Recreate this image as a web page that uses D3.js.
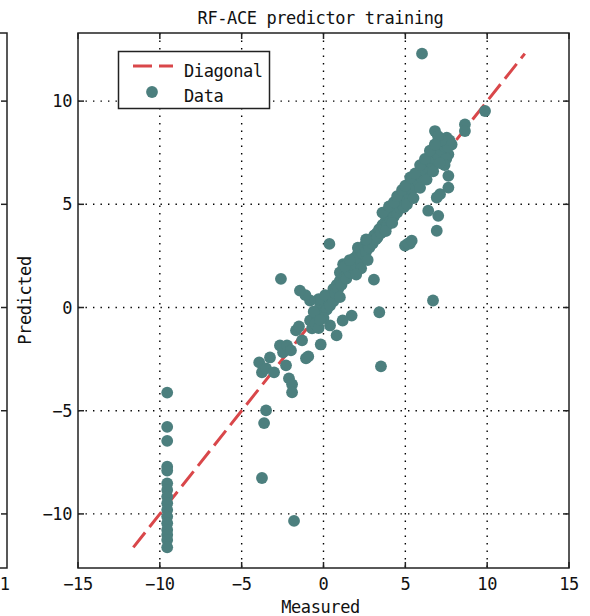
<!DOCTYPE html>
<html>
<head>
<meta charset="utf-8">
<script src="https://cdn.jsdelivr.net/npm/d3@7"></script>
<style>
  body { margin: 0; background: #fff; }
  text { font-family: "DejaVu Sans Mono", monospace; font-size: 17px; letter-spacing: -0.4px; fill: #111; }
</style>
</head>
<body>
<svg id="chart" width="590" height="616"></svg>
<script>
// ---- chart text ----
const title = "RF-ACE predictor training";
const xLabel = "Measured";
const yLabel = "Predicted";
const legendLabels = ["Diagonal", "Data"];
const xTicks = [-15, -10, -5, 0, 5, 10, 15];
const yTicks = [-10, -5, 0, 5, 10];

// ---- training samples: measured vs predicted ----
const measured = [
  // column of low measured values
  -9.55, -9.55, -9.55, -9.55, -9.55, -9.55, -9.55, -9.55, -9.55, -9.55, -9.55, -9.55, -9.55, -9.55, -9.55, -9.55,
  // isolated samples
  6.02, 9.87, 8.64, 8.64, 6.69, 3.51, -1.8, -3.76, -3.63, -3.51, 0.36, -2.6, 3.08, 5.28, 4.98, 5.18, 5.39,
  6.4, 7.01, 6.92, 7.12, 6.92, 7.63, 7.63, 7.63, 7.83, 7.53, 6.81,
  // below the diagonal near zero
  1.72, 1.17, 0.4, 0.8, -0.17, -0.93, 3.41,
  // lower-left group
  -3.93, -3.76, -3.51, -3.27, -3.02, -2.66, -2.47, -2.23, -1.99, -2.29, -2.11, -1.92, -1.92, -1.68, -1.5, -1.31, -1.07, -0.82, -0.7,
  // around the origin
  0, 0.1, -0.2, 0.3, -0.1, 0.2, -0.4, 0.5, -0.3, 0.1, 0.4, -0.6, -0.82, -1.1, -1.44, -0.5, -0.3, 0, 0.6, -0.2,
  // main band 0..5
  0.6, 0.7, 0.8, 0.9, 1.0, 1.0, 1.1, 1.2, 1.3, 1.4, 1.5, 1.6, 1.7, 1.8, 1.9, 2.0, 2.1, 2.1, 2.2, 2.3, 2.3, 2.4, 2.5,
  2.6, 2.7, 2.8, 2.9, 3.0, 3.1, 3.2, 3.25, 3.3, 3.4, 3.5, 3.6, 3.7, 3.8, 3.9, 4.0, 4.1, 4.2, 4.3, 4.4, 4.5, 4.6, 4.7,
  4.8, 4.9, 4.9,
  1.3, 1.6, 2.6, 2.0, 2.7, 1.0, 3.6, 4.0, 4.3, 3.8, 4.2,
  // main band 5..8
  5.0, 5.1, 5.2, 5.3, 5.4, 5.5, 5.6, 5.7, 5.8, 5.9, 6.0, 6.1, 6.2, 6.3, 6.4, 6.5, 6.6, 6.7, 6.8, 6.9, 7.0, 7.1, 7.2,
  7.3, 7.4, 7.5, 7.6, 7.7, 7.2, 7.0, 7.5, 7.4,
  4.5, 4.8, 5.0, 5.3, 5.6, 5.9, 6.2, 6.5, 6.8, 5.1, 5.5, 5.9, 6.3, 6.7, 7.1
];
const predicted = [
  -4.12, -5.78, -6.46, -7.71, -7.9, -8.52, -8.84, -9.16, -9.48, -9.81, -10.13, -10.45, -10.77, -11.01, -11.26, -11.62,
  12.3, 9.52, 8.87, 8.55, 0.34, -2.85, -10.34, -8.26, -5.6, -4.98, 3.08, 1.39, 1.35, 3.1, 3.0, 3.11, 3.24,
  4.69, 4.44, 3.72, 5.49, 5.33, 5.81, 6.38, 7.42, 7.9, 8.23, 8.55,
  -0.39, -0.63, -0.87, -1.35, -1.79, -2.37, -0.23,
  -2.66, -3.14, -2.95, -2.42, -3.14, -1.84, -2.17, -1.84, -2.08, -2.8, -3.43, -3.72, -4.11, -1.11, -0.92, -1.59, -2.46, -0.63, -1.01,
  0, 0.2, 0.1, 0.4, -0.3, -0.1, -0.4, 0.6, 0.4, 0.6, 0.1, -0.2, 0.34, 0.6, 0.82, -0.8, -1.0, -0.5, 0.3, -0.6,
  0.9, 0.7, 1.1, 0.9, 1.3, 1.7, 1.1, 2.1, 1.5, 1.4, 1.9, 1.7, 2.1, 1.9, 2.4, 2.1, 2.6, 2.9, 2.3, 2.8, 1.9, 2.6, 3.0,
  2.7, 3.1, 2.9, 3.3, 3.1, 3.5, 3.3, 3.6, 3.4, 3.8, 3.6, 4.0, 3.8, 4.2, 4.0, 4.4, 4.2, 4.6, 4.4, 4.8, 4.6, 5.0, 4.8,
  5.2, 5.0, 4.85,
  2.0, 2.3, 3.3, 1.6, 2.3, 0.5, 4.6, 4.9, 5.1, 3.7, 4.1,
  5.4, 5.6, 5.5, 5.8, 5.7, 6.0, 5.9, 6.2, 6.1, 6.4, 6.3, 6.7, 6.6, 6.9, 6.8, 7.1, 7.0, 7.3, 7.2, 7.5, 7.4, 7.7, 7.6,
  7.9, 7.8, 8.0, 7.8, 8.1, 8.1, 8.3, 7.2, 6.9,
  5.4, 5.7, 5.9, 6.3, 6.5, 6.9, 7.2, 7.6, 7.9, 5.0, 5.3, 5.8, 6.2, 6.6, 7.0
];

// ---- colours ----
const dataColor = "#4c7f7e";
const diagColor = "#d9474a";
const axisColor = "#222";

// ---- layout ----
const plot = { left: 78, right: 569, top: 33, bottom: 568 };
const svg = d3.select("#chart");

const predMin = d3.min(predicted), predMax = d3.max(predicted);
const x = d3.scaleLinear().domain([-15, 15]).range([plot.left, plot.right]);
const y = d3.scaleLinear().domain([predMin - 1, predMax + 1]).range([plot.bottom, plot.top]);

// neighbouring panel edge on the far left
const side = svg.append("g").attr("stroke", axisColor).attr("stroke-width", 1.5).attr("fill", "none");
side.append("path").attr("d", `M0,${plot.top}H7V${plot.bottom}H0`);
side.selectAll("line.tk").data(yTicks).join("line")
  .attr("x1", 7).attr("x2", 1).attr("y1", d => y(d)).attr("y2", d => y(d));
svg.append("text").attr("x", 9.6).attr("y", 590).attr("text-anchor", "end").text("1");

// grid
const grid = svg.append("g").attr("stroke", "#000").attr("stroke-width", 1.4)
  .attr("stroke-dasharray", "1.4,6.1");
grid.selectAll("line.gx").data(xTicks.slice(1, -1)).join("line")
  .attr("x1", d => x(d)).attr("x2", d => x(d)).attr("y1", plot.top).attr("y2", plot.bottom);
grid.selectAll("line.gy").data(yTicks).join("line")
  .attr("y1", d => y(d)).attr("y2", d => y(d)).attr("x1", plot.left).attr("x2", plot.right);

// diagonal reference line
svg.append("line")
  .attr("x1", x(predMin)).attr("y1", y(predMin))
  .attr("x2", x(predMax)).attr("y2", y(predMax))
  .attr("stroke", diagColor).attr("stroke-width", 3).attr("stroke-dasharray", "19,7");

// samples
svg.append("g").selectAll("circle").data(d3.range(measured.length)).join("circle")
  .attr("cx", i => x(measured[i])).attr("cy", i => y(predicted[i]))
  .attr("r", 5.9).attr("fill", dataColor);

// frame and ticks
svg.append("rect")
  .attr("x", plot.left).attr("y", plot.top)
  .attr("width", plot.right - plot.left).attr("height", plot.bottom - plot.top)
  .attr("fill", "none").attr("stroke", axisColor).attr("stroke-width", 1.5);

const tickLen = 6;
const ticks = svg.append("g").attr("stroke", axisColor).attr("stroke-width", 1.5);
xTicks.forEach(v => {
  ticks.append("line").attr("x1", x(v)).attr("x2", x(v)).attr("y1", plot.bottom).attr("y2", plot.bottom - tickLen);
  ticks.append("line").attr("x1", x(v)).attr("x2", x(v)).attr("y1", plot.top).attr("y2", plot.top + tickLen);
});
yTicks.forEach(v => {
  ticks.append("line").attr("y1", y(v)).attr("y2", y(v)).attr("x1", plot.left).attr("x2", plot.left + tickLen);
  ticks.append("line").attr("y1", y(v)).attr("y2", y(v)).attr("x1", plot.right).attr("x2", plot.right - tickLen);
});

const fmt = d => d3.format("d")(d);
svg.append("g").selectAll("text").data(xTicks).join("text")
  .attr("x", d => x(d)).attr("y", 590).attr("text-anchor", "middle").text(fmt);
svg.append("g").selectAll("text").data(yTicks).join("text")
  .attr("x", 72).attr("y", d => y(d) + 6).attr("text-anchor", "end").text(fmt);

// titles
const cx = (plot.left + plot.right) / 2;
svg.append("text").attr("x", cx - 3).attr("y", 24).attr("text-anchor", "middle").text(title);
svg.append("text").attr("x", cx - 3).attr("y", 613).attr("text-anchor", "middle").text(xLabel);
svg.append("text").attr("transform", `translate(31,${(plot.top + plot.bottom) / 2}) rotate(-90)`)
  .attr("text-anchor", "middle").text(yLabel);

// legend
const lg = svg.append("g");
lg.append("rect").attr("x", 118.5).attr("y", 51.5).attr("width", 151).attr("height", 57)
  .attr("fill", "#fff").attr("stroke", axisColor).attr("stroke-width", 1.5);
lg.append("line").attr("x1", 133).attr("x2", 173).attr("y1", 66).attr("y2", 66)
  .attr("stroke", diagColor).attr("stroke-width", 3).attr("stroke-dasharray", "19,7");
lg.append("circle").attr("cx", 152).attr("cy", 92).attr("r", 5.9).attr("fill", dataColor);
lg.append("text").attr("x", 184).attr("y", 77).text(legendLabels[0]);
lg.append("text").attr("x", 184).attr("y", 102).text(legendLabels[1]);
</script>
</body>
</html>
